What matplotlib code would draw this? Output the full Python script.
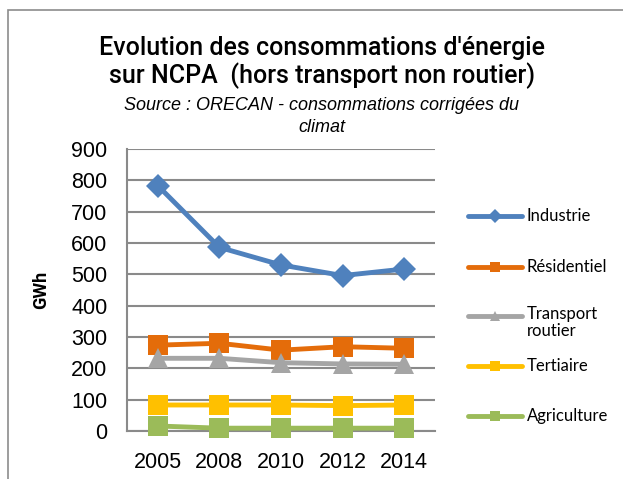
import matplotlib.pyplot as plt
from matplotlib.lines import Line2D
from matplotlib.patches import Rectangle

years = ["2005", "2008", "2010", "2012", "2014"]
industrie = [783, 586, 530, 496, 517]
residentiel = [274, 280, 258, 269, 264]
transport = [232, 232, 218, 214, 213]
tertiaire = [83, 83, 83, 81, 83]
agriculture = [16, 9, 9, 9, 9]

labels = ["Industrie", "Résidentiel", "Transport\nroutier", "Tertiaire", "Agriculture"]
colors = ["#4F81BD", "#E46C0A", "#A5A5A5", "#FFC000", "#9BBB59"]
markers = ["D", "s", "^", "s", "s"]
msizes = [12, 14, 14, 14, 14]
series = [industrie, residentiel, transport, tertiaire, agriculture]

fig = plt.figure(figsize=(6.23, 4.79), dpi=100)
# outer chart frame
fig.patches.append(Rectangle((8 / 623, -0.1), 1.2, 1 - 10 / 479 + 0.1,
                             transform=fig.transFigure, fill=False,
                             edgecolor="#8c8c8c", linewidth=1.2))

ax = fig.add_axes([127 / 623, 1 - 431 / 479, 308 / 623, 282 / 479])
x = range(len(years))
for vals, c, m, ms in zip(series, colors, markers, msizes):
    ax.plot(x, vals, color=c, linewidth=3.5, marker=m, markersize=ms,
            markeredgewidth=0, clip_on=False, zorder=3)

ax.set_xlim(-0.5, 4.5)
ax.set_ylim(0, 900)
ax.set_yticks(range(0, 901, 100))
ax.set_xticks(list(x))
ax.set_xticklabels(years)
ax.yaxis.grid(True, color="#8a8a8a", linewidth=1.5)
ax.set_axisbelow(True)
for s in ["top", "right"]:
    ax.spines[s].set_visible(False)
for s in ["left", "bottom"]:
    ax.spines[s].set_color("#8a8a8a")
    ax.spines[s].set_linewidth(1.5)
ax.tick_params(axis="y", length=0, labelsize=15.5, pad=14)
ax.tick_params(axis="x", length=0, labelsize=15.5, pad=15)
for t in ax.get_xticklabels() + ax.get_yticklabels():
    t.set_fontfamily("Liberation Sans")
ax.set_ylabel("GWh", fontsize=13, fontweight="bold", family="Roboto")
ax.yaxis.set_label_coords((50 - 127) / 308, (431 - 290) / 282)

fig.text(322 / 623, 1 - 48 / 479, "Evolution des consommations d'énergie",
         ha="center", va="center", fontsize=18, family="Roboto", fontweight="medium")
fig.text(322 / 623, 1 - 76 / 479, "sur NCPA  (hors transport non routier)",
         ha="center", va="center", fontsize=18, family="Roboto", fontweight="medium")
fig.text(322 / 623, 1 - 105 / 479, "Source : ORECAN - consommations corrigées du",
         ha="center", va="center", fontsize=13, style="italic", family="Liberation Sans")
fig.text(322 / 623, 1 - 128 / 479, "climat",
         ha="center", va="center", fontsize=13, style="italic", family="Liberation Sans")

# legend drawn by hand (Excel-style spacing)
leg_y = [216, 267, 316, 366, 416]
for lab, c, m, y in zip(labels, colors, markers, leg_y):
    ly = 1 - y / 479
    fig.add_artist(Line2D([468 / 623, 522 / 623], [ly, ly], color=c, linewidth=3.5,
                          transform=fig.transFigure, solid_capstyle="round"))
    fig.add_artist(Line2D([495 / 623], [ly], color=c, marker=m, markersize=7,
                          markeredgewidth=0, linestyle="none", transform=fig.transFigure))
    if "\n" in lab:
        fig.text(527 / 623, ly + 10 / 479, lab, ha="left", va="top", fontsize=12,
                 family="Lato", linespacing=1.05)
    else:
        fig.text(527 / 623, ly, lab, ha="left", va="center", fontsize=12, family="Lato")

fig.savefig("out.png", dpi=100)
